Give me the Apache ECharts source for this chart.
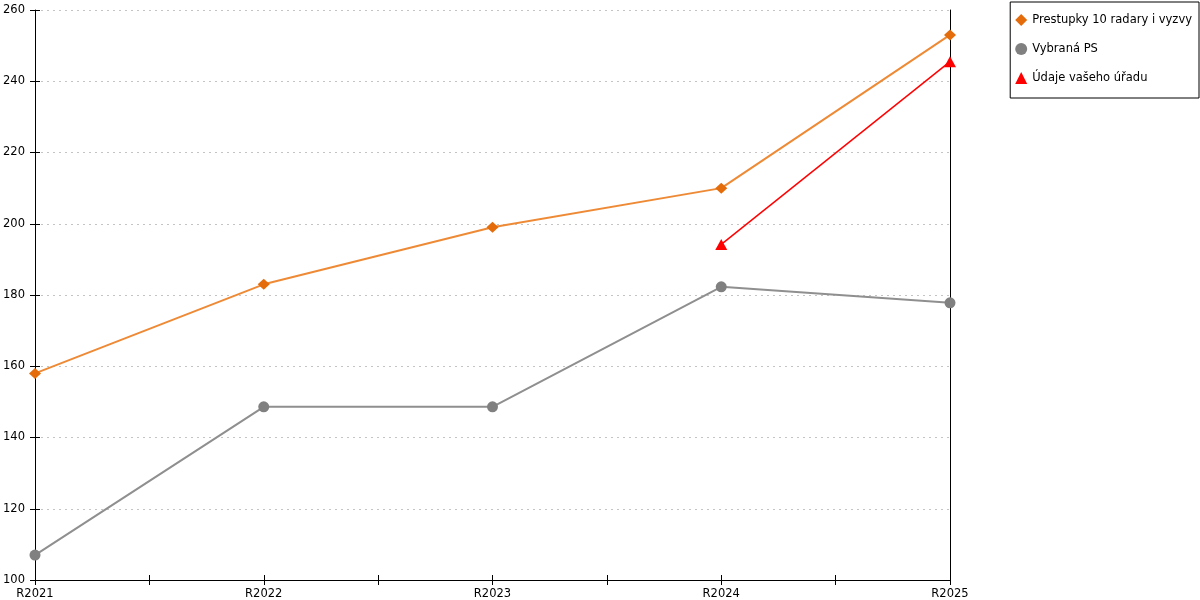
<!DOCTYPE html>
<html><head><meta charset="utf-8">
<script src="https://cdn.jsdelivr.net/npm/echarts@6/dist/echarts.min.js"></script>
<style>html,body{margin:0;padding:0;background:#fff}#c{width:1200px;height:600px}</style>
</head><body><div id="c"></div>
<script>
const categories = ['R2021','R2022','R2023','R2024','R2025'];
const seriesNames = ['Prestupky 10 radary i vyzvy','Vybraná PS','Údaje vašeho úřadu'];
const seriesSymbols = ['diamond','circle','triangle'];
const radaryValues = [158, 183, 199, 210, 253];
const vybranaValues = [107, 148.6, 148.6, 182.3, 177.8];
const uradValues = [null, null, null, 194.2, 245.5];
const yMin = 100, yMax = 260, yStep = 20;

const toPts = arr => arr.map((v,i)=> v==null ? null : [i, v]).filter(p=>p);
const font = 'DejaVu Sans';
const chart = echarts.init(document.getElementById('c'));
const xCommon = {type:'value', min:0, max:categories.length-1, interval:0.5};
chart.setOption({
  animation:false,
  textStyle:{fontFamily:font},
  grid:{left:35, right:250, top:10, bottom:20},
  legend:{
    orient:'vertical', right:1, top:2,
    padding:[12,7,14,5], itemGap:17, itemWidth:12, itemHeight:12, itemTextGap:5,
    borderColor:'#000', borderWidth:1, borderRadius:0, backgroundColor:'#fff',
    textStyle:{fontFamily:font, fontSize:11.5, color:'#000'},
    data:seriesNames.map((n,i)=>({name:n, icon:seriesSymbols[i]}))
  },
  xAxis:[
    Object.assign({}, xCommon, {
      axisLine:{show:true, lineStyle:{color:'#000', width:1}},
      axisTick:{show:true, length:5, lineStyle:{color:'#000'}},
      splitLine:{show:false},
      axisLabel:{margin:8, fontSize:11.5, color:'#000', fontFamily:font,
        formatter:v => Number.isInteger(v) ? categories[v] : ''}
    }),
    Object.assign({}, xCommon, {
      position:'bottom',
      axisLine:{show:false}, axisLabel:{show:false}, splitLine:{show:false},
      axisTick:{show:true, inside:true, length:5, lineStyle:{color:'#000'}}
    })
  ],
  yAxis:[
    {type:'value', min:yMin, max:yMax, interval:yStep,
     axisLine:{show:true, lineStyle:{color:'#000'}},
     axisTick:{show:true, length:5, lineStyle:{color:'#000'}},
     axisLabel:{margin:10, fontSize:11.5, color:'#000', fontFamily:font},
     splitLine:{show:true, lineStyle:{color:'#c4c4c4', type:[2,4], width:1}}},
    {type:'value', min:yMin, max:yMax, interval:yStep, position:'left',
     axisLine:{show:false}, axisLabel:{show:false}, splitLine:{show:false},
     axisTick:{show:true, inside:true, length:5, lineStyle:{color:'#000'}}},
    {type:'value', min:yMin, max:yMax, interval:yStep, position:'right',
     axisLine:{show:true, onZero:false, lineStyle:{color:'#000'}},
     axisLabel:{show:false}, axisTick:{show:false}, splitLine:{show:false}}
  ],
  series:[
    {name:seriesNames[0], type:'line', data:toPts(radaryValues),
     symbol:seriesSymbols[0], symbolSize:[12,11], z:4,
     lineStyle:{color:'#ee8a35', width:2}, itemStyle:{color:'#e46c0a'}},
    {name:seriesNames[1], type:'line', data:toPts(vybranaValues),
     symbol:seriesSymbols[1], symbolSize:11, z:3,
     lineStyle:{color:'#8f8f8f', width:2}, itemStyle:{color:'#808080'}},
    {name:seriesNames[2], type:'line', data:toPts(uradValues),
     symbol:seriesSymbols[2], symbolSize:[12,11], z:5,
     lineStyle:{color:'#ff0000', width:1.5}, itemStyle:{color:'#ff0000'}}
  ]
});
</script></body></html>
